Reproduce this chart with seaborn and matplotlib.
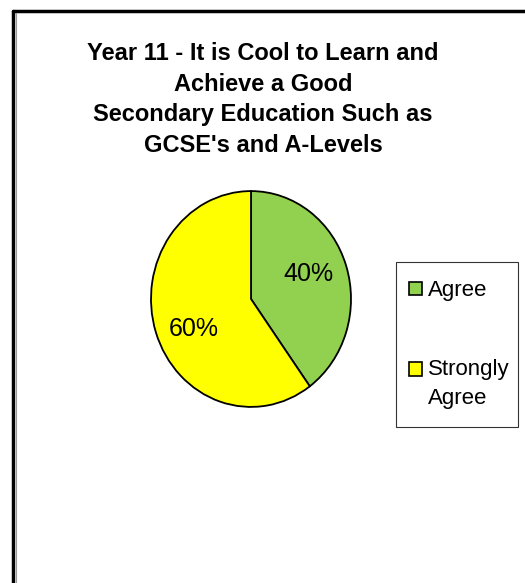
import matplotlib.pyplot as plt
import matplotlib.patches as mpatches
from matplotlib.legend_handler import HandlerPatch
import seaborn as sns

labels = ['Agree', 'Strongly\nAgree']
values = [40, 60]
colors = ['#92D050', '#FFFF00']
title = "Year 11 - It is Cool to Learn and\nAchieve a Good\nSecondary Education Such as\nGCSE's and A-Levels"

sns.set_style('white')
plt.rcParams['font.family'] = ['Liberation Sans', 'DejaVu Sans']
plt.rcParams['text.color'] = 'black'


class TopHandler(HandlerPatch):
    # put the square next to the first line of a label, like Excel does
    def __init__(self, dx=0, dy=0, **kw):
        super().__init__(**kw)
        self.dx = dx
        self.dy = dy

    def create_artists(self, legend, orig_handle, xdescent, ydescent, width, height, fontsize, trans):
        nlines = orig_handle.get_label().count('\n')
        p = mpatches.Rectangle((-xdescent + self.dx, -ydescent + self.dy * nlines), width, height)
        self.update_prop(p, orig_handle, legend)
        p.set_transform(trans)
        return [p]


fig = plt.figure(figsize=(5.25, 5.83), dpi=100)
fig.patch.set_facecolor('white')

# outer frame (only top and left visible in the crop)
fig.add_artist(plt.Line2D([13/525, 1], [1-11/583, 1-11/583], color='black', lw=2.5))
fig.add_artist(plt.Line2D([13/525, 13/525], [0, 1-11/583], color='black', lw=2.5))
fig.add_artist(plt.Line2D([15.5/525, 15.5/525], [0, 1-13/583], color='#999999', lw=0.8))

ax = fig.add_axes([150/525, 1-408/583, 202/525, 218/583])
wedges, texts, autotexts = ax.pie(values, colors=colors, startangle=90, counterclock=False,
                                  autopct='%1.0f%%', pctdistance=0.6,
                                  wedgeprops=dict(edgecolor='black', linewidth=1.3),
                                  textprops=dict(fontsize=18, color='black'))
ax.set_aspect('auto')
ax.set_xlim(-1.01, 1.01)
ax.set_ylim(-1.01, 1.01)
# Excel puts the labels a bit further from the horizontal
for t, shift in zip(autotexts, [0.05, -0.09]):
    t.set_y(t.get_position()[1] + shift)

fig.text(263/525, 1-42/583, title, ha='center', va='top', fontsize=17,
         fontweight='bold', linespacing=1.43)

handles = [mpatches.Patch(facecolor=c, edgecolor='black', linewidth=1.2, label=l)
           for c, l in zip(colors, labels)]
leg = fig.legend(handles, labels, loc='upper left',
                 bbox_to_anchor=(396/525, 1-423/583, 122/525, 161/583), mode='expand',
                 frameon=True, fancybox=False, fontsize=16, handlelength=0.55, handleheight=0.55,
                 handletextpad=0.09, labelspacing=2.58, borderpad=0.82, borderaxespad=0,
                 handler_map={mpatches.Patch: TopHandler(dx=-3.5, dy=10.5)})
for t in leg.get_texts():
    t.set_linespacing(1.5)
leg.get_frame().set_edgecolor('black')
leg.get_frame().set_linewidth(0.8)

fig.savefig('out.png', dpi=100)
